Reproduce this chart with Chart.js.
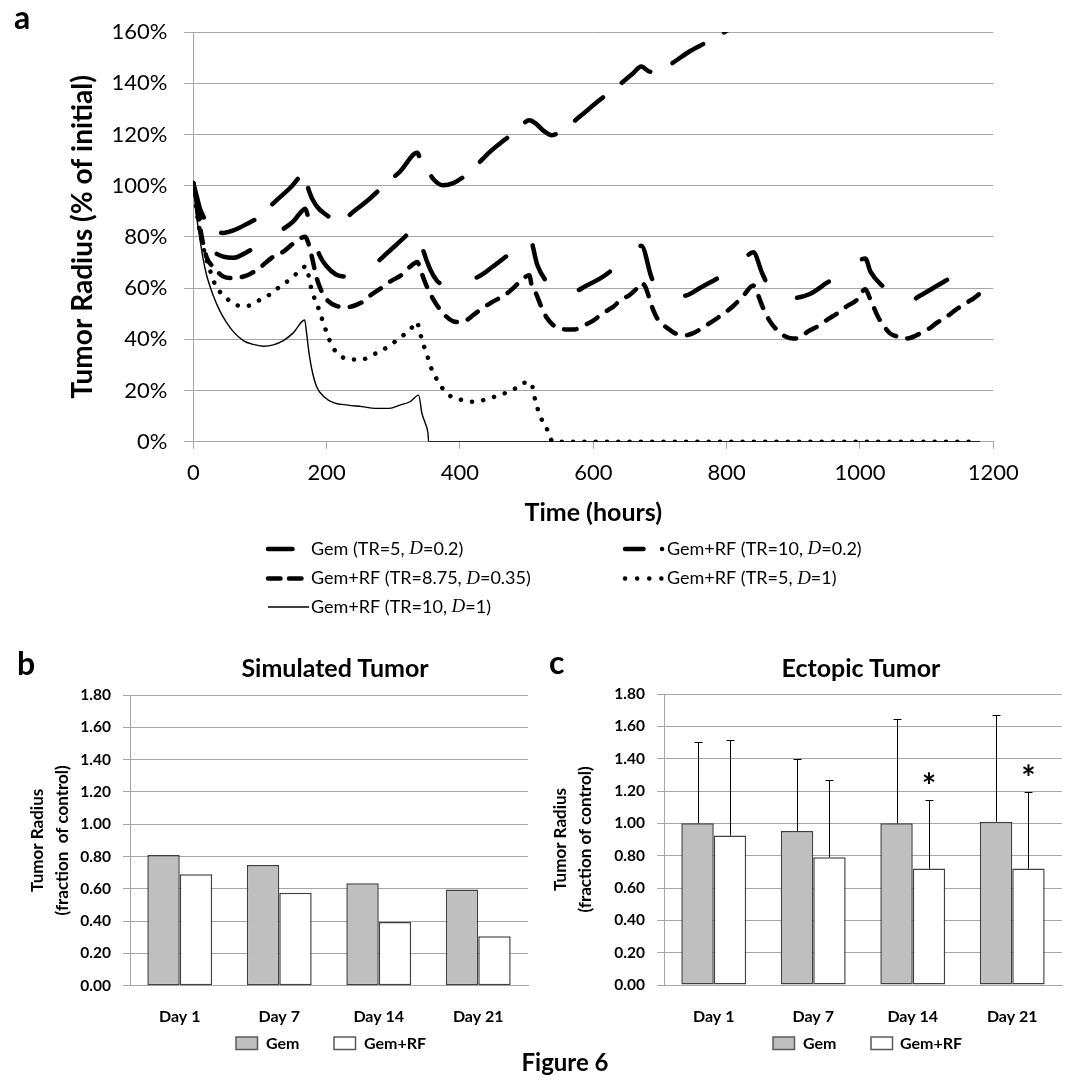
<!DOCTYPE html>
<html>
<head>
<meta charset="utf-8">
<script src="https://cdn.jsdelivr.net/npm/chart.js@4/dist/chart.umd.min.js"></script>
<style>
html,body{margin:0;padding:0;background:#fff;}
#page{position:relative;width:1072px;height:1078px;overflow:hidden;background:#fff;}
canvas{position:absolute;}
.t{position:absolute;font-family:Lato,sans-serif;font-weight:bold;color:#000;white-space:nowrap;line-height:1;}
</style>
</head>
<body>
<div id="page">
  <canvas id="chartA" width="1072" height="630" style="left:0;top:0;"></canvas>
  <canvas id="chartB" width="540" height="438" style="left:0;top:640px;"></canvas>
  <canvas id="chartC" width="542" height="438" style="left:530px;top:640px;"></canvas>
  <div class="t" style="left:14px;top:1px;font-size:32px;">a</div>
  <div class="t" style="left:17px;top:647px;font-size:32px;">b</div>
  <div class="t" style="left:549px;top:646px;font-size:32px;">c</div>
  <div class="t" style="left:335px;top:655px;font-size:25px;transform:translateX(-50%);">Simulated Tumor</div>
  <div class="t" style="left:861px;top:655px;font-size:25px;transform:translateX(-50%);">Ectopic Tumor</div>
  <div class="t" style="left:565px;top:1050px;font-size:24px;transform:translateX(-50%);">Figure 6</div>
</div>
<script>
// ================= DATA =================
// Panel a: [time (hours), tumor radius (% of initial)]
const gemTR5D02 = [[0,101],[5,96],[10,91],[15,88],[20,85.5],[30,83],[45,81.5],[60,82.5],[80,85],[100,88],[122,93.6],[145,99],[168,104.7],[173,98.3],[185,92],[200,88.5],[213,86.6],[225,86.8],[240,89.8],[265,95],[287,100.3],[310,105.5],[336,112.8],[342,109],[351,106],[362,102],[374,100.2],[390,101],[405,103.4],[425,108],[444,113],[465,117.5],[485,121.5],[504,125.5],[514,124.2],[525,121.5],[538,119.7],[550,121],[564,123.6],[588,128.8],[610,133.5],[636,138.8],[659,143.7],[672,146.5],[685,144.5],[700,145.5],[717,147.6],[743,152.2],[770,156],[797,160],[810,162]];
const rfTR10D02 = [[0,101],[5,94],[10,87],[15,82],[20,78.5],[30,74.5],[45,72.3],[60,71.8],[80,74],[102,77.5],[125,81.5],[150,86],[160,89.2],[168,91],[172,88],[180,80],[190,72.5],[200,68.5],[214,65.3],[229,64.5],[245,66],[260,67.8],[275,70],[290,73.5],[305,77],[315,79.4],[336,84],[344,75.5],[355,67.5],[365,63],[375,61.2],[390,60.6],[410,62.5],[432,65.1],[450,68.5],[470,72.5],[490,77],[504,80],[516,69],[530,62.5],[545,59.3],[564,57.9],[590,61],[614,64.4],[640,69.5],[660,74],[672,76.5],[688,63.7],[700,59.5],[715,57.5],[730,56.8],[741,57.2],[760,60],[794,65],[820,69.5],[840,74],[853,66],[866,59.2],[880,57],[895,56],[924,57.6],[950,62],[977,66.7],[1008,71.5],[1016,66.3],[1035,60.5],[1059,55.3],[1075,55],[1090,57],[1117,61.1],[1147,65.7],[1175,69.5]];
const rfTR875D035 = [[0,101],[5,92],[10,84],[15,77],[20,72],[32,67.7],[45,64.5],[60,63.9],[82,65.1],[100,68],[120,72.3],[135,74.2],[150,77.4],[168,80],[172,78],[178,72],[185,64],[192,59],[202,55],[215,53],[228,52.5],[240,53],[255,54.8],[267,57.4],[282,60],[295,62.5],[312,65.1],[325,68.3],[336,70.2],[341,67],[348,62],[355,58],[365,53.5],[377,49.5],[390,47],[400,46.7],[410,47.5],[420,49.5],[437,52.7],[450,54.8],[467,57.2],[480,60],[490,62.5],[504,65],[508,60.5],[514,57.9],[522,52.7],[530,48.5],[540,45.5],[550,44.2],[562,43.8],[572,43.8],[582,44.9],[601,47.5],[614,50.1],[630,52.7],[641,55.3],[654,57.2],[665,59.8],[672,62],[678,60.5],[688,52.7],[696,48.1],[712,44.2],[723,42.3],[739,41.6],[749,42.3],[770,45.5],[790,49],[810,53],[825,57],[840,61],[846,58],[855,52],[865,47],[878,43],[889,41],[900,40.3],[910,40.5],[921,42.9],[940,45.5],[950,47.5],[966,50.1],[979,52.7],[995,55.3],[1008,59.5],[1016,55.3],[1027,48.8],[1035,45.5],[1045,42.3],[1057,41],[1065,40.3],[1075,40.5],[1085,41.6],[1104,44.2],[1114,46.2],[1133,49.4],[1143,51.4],[1162,54.6],[1170,55.9],[1180,57.9]];
const rfTR5D1 = [[0,101],[5,90],[10,82],[15,76],[20,71],[25,67],[30,63],[40,58.5],[50,56],[62,53.5],[80,53],[97,55],[113,57.2],[126,59.8],[140,62.4],[152,65],[164,67.7],[168,68.5],[172,66],[175,61.9],[180,57.3],[187,52.7],[192,48.8],[197,44.9],[203,40.5],[209,37],[219,33.8],[237,32.1],[253,32.1],[268,33.8],[284,35.8],[299,38.4],[312,41],[325,43.6],[335,46.8],[338,44.9],[343,39.7],[348,35.8],[353,31.9],[358,28],[366,24],[374,20.8],[387,17.6],[403,16.3],[418,15.6],[436,16.3],[452,17.6],[467,18.9],[483,20.8],[496,23],[507,23],[511,18.2],[515,14.3],[520,10],[529,6.1],[534,2.2],[540,0],[1175,0]];
const rfTR10D1 = [[0,101],[5,88],[10,79],[15,71],[20,65],[30,57],[40,51],[50,46.5],[60,43],[75,39.5],[90,38],[105,37.3],[120,37.8],[135,39.5],[150,42.5],[167,47.5],[170,42.3],[173,35.8],[178,28],[185,21.5],[196,17.6],[211,15.2],[232,14.3],[253,13.7],[273,13],[294,13],[310,14.3],[325,15.6],[338,18.2],[343,11],[348,7.2],[352,3.3],[353,0],[1180,0]];
const seriesLabelsA = ['Gem (TR=5, D=0.2)','Gem+RF (TR=10, D=0.2)','Gem+RF (TR=8.75, D=0.35)','Gem+RF (TR=5, D=1)','Gem+RF (TR=10, D=1)'];

// Panels b and c
const dayLabels = ['Day 1','Day 7','Day 14','Day 21'];
const barSeriesLabels = ['Gem','Gem+RF'];
const simulatedGem = [0.81, 0.747, 0.635, 0.596];
const simulatedGemRF = [0.69, 0.575, 0.395, 0.306];
const ectopicGem = [1.00, 0.953, 1.00, 1.01];
const ectopicGemRF = [0.924, 0.79, 0.72, 0.72];
const ectopicGemErrTop = [1.505, 1.398, 1.645, 1.672];
const ectopicGemRFErrTop = [1.513, 1.268, 1.144, 1.194];
const ectopicGemRFSig = ['', '', '*', '*'];

// ================= RENDER =================
Chart.defaults.font.family = 'Lato, sans-serif';
Chart.defaults.color = '#000';
const GRID = '#a6a6a6';
const BAR_EDGE = '#404040';
const toXY = arr => arr.map(p => ({x: p[0], y: p[1]}));

// custom legend for panel a (two columns, italic serif D)
const legendAItems = [
  {ds:0, x:268, y:549, len:41, tx:311},
  {ds:1, x:625, y:549, len:41, tx:667},
  {ds:2, x:268, y:578.5, len:41, tx:311},
  {ds:3, x:625, y:578.5, len:41, tx:667},
  {ds:4, x:268, y:607, len:41, tx:311}
];
const legendAPlugin = {
  id: 'legendA',
  afterDraw(chart) {
    const ctx = chart.ctx;
    const reg = '18px Lato, sans-serif';
    const ital = 'italic 19px "Liberation Serif", "DejaVu Serif", serif';
    legendAItems.forEach(it => {
      const ds = chart.data.datasets[it.ds];
      ctx.save();
      ctx.strokeStyle = ds.borderColor;
      ctx.lineWidth = ds.borderWidth;
      ctx.lineCap = ds.borderCapStyle || 'butt';
      ctx.setLineDash(ds.legendDash || []);
      ctx.beginPath();
      ctx.moveTo(it.x, it.y);
      ctx.lineTo(it.x + it.len, it.y);
      ctx.stroke();
      ctx.setLineDash([]);
      const label = ds.label;
      const k = label.indexOf('D=');
      const parts = k >= 0 ? [[label.slice(0, k), reg], ['D', ital], [label.slice(k + 1), reg]] : [[label, reg]];
      ctx.fillStyle = '#000';
      ctx.textBaseline = 'middle';
      ctx.textAlign = 'left';
      let x = it.tx;
      parts.forEach(([s, f]) => { ctx.font = f; ctx.fillText(s, x, it.y); x += ctx.measureText(s).width; });
      ctx.restore();
    });
  }
};

const lineBase = {borderColor:'#000', pointRadius:0, fill:false, borderCapStyle:'round', borderJoinStyle:'round', cubicInterpolationMode:'monotone'};

new Chart(document.getElementById('chartA'), {
  type: 'line',
  data: {
    datasets: [
      Object.assign({}, lineBase, {label: seriesLabelsA[0], data: toXY(gemTR5D02), borderWidth:4.5, borderDash:[36,24], legendDash:[24.5,100]}),
      Object.assign({}, lineBase, {label: seriesLabelsA[1], data: toXY(rfTR10D02), borderWidth:4.5, borderDash:[36,40], legendDash:[18.5,18.5,0.1,100]}),
      Object.assign({}, lineBase, {label: seriesLabelsA[2], data: toXY(rfTR875D035), borderWidth:4.5, borderDash:[12.5,11.5], legendDash:[12.5,8.5]}),
      Object.assign({}, lineBase, {label: seriesLabelsA[3], data: toXY(rfTR5D1), borderWidth:4.5, borderDash:[0.1,11.2], legendDash:[0.1,12]}),
      Object.assign({}, lineBase, {label: seriesLabelsA[4], data: toXY(rfTR10D1), borderWidth:1.4, borderDash:[], borderCapStyle:'butt', legendDash:[]})
    ]
  },
  options: {
    responsive:false, animation:false, events:[],
    layout: {padding: {left:0, top:32, right:78.7, bottom:0}},
    plugins: {legend:{display:false}, tooltip:{enabled:false}},
    scales: {
      x: {
        type:'linear', min:0, max:1200,
        afterFit: s => { s.height = 188.3; },
        ticks: {stepSize:200, font:{size:22}, padding:11, color:'#000', maxRotation:0, callback: v => String(v)},
        grid: {drawOnChartArea:false, drawTicks:true, tickLength:7, color:GRID},
        border: {display:true, color:GRID},
        title: {display:true, text:'Time (hours)', font:{size:25, weight:'bold'}, padding:{top:0, bottom:102}, color:'#000'}
      },
      y: {
        min:0, max:160,
        afterFit: s => { s.width = 193.3; },
        ticks: {stepSize:20, font:{size:22}, padding:17, color:'#000', callback: v => v + '%'},
        grid: {color:GRID, tickLength:9, drawTicks:true},
        border: {display:true, color:GRID},
        title: {display:true, text:'Tumor Radius (% of initial)', font:{size:28, weight:'bold'}, padding:{top:66, bottom:0}, color:'#000'}
      }
    }
  },
  plugins: [legendAPlugin]
});

// bar chart helpers
function makeBarLegend(items) {
  return {
    id: 'barLegend',
    afterDraw(chart) {
      const ctx = chart.ctx;
      ctx.save();
      items.forEach(it => {
        ctx.fillStyle = it.fill;
        ctx.fillRect(it.bx, 397, 21.5, 12.5);
        ctx.strokeStyle = '#595959';
        ctx.lineWidth = 1.5;
        ctx.strokeRect(it.bx, 397, 21.5, 12.5);
        ctx.fillStyle = '#000';
        ctx.font = 'bold 16px Lato, sans-serif';
        ctx.textBaseline = 'middle';
        ctx.textAlign = 'left';
        ctx.fillText(it.label, it.tx, 403.5);
      });
      ctx.restore();
    }
  };
}
const errorBarPlugin = {
  id: 'errorBars',
  afterDatasetsDraw(chart) {
    const ctx = chart.ctx, ys = chart.scales.y;
    const sets = [ectopicGemErrTop, ectopicGemRFErrTop];
    ctx.save();
    ctx.strokeStyle = '#000';
    ctx.lineWidth = 1;
    sets.forEach((errs, di) => {
      const meta = chart.getDatasetMeta(di);
      meta.data.forEach((bar, i) => {
        const x = Math.round(bar.x) + 0.5;
        const yt = Math.round(ys.getPixelForValue(errs[i])) + 0.5;
        ctx.beginPath();
        ctx.moveTo(x, bar.y);
        ctx.lineTo(x, yt);
        ctx.moveTo(x - 4, yt);
        ctx.lineTo(x + 4, yt);
        ctx.stroke();
      });
    });
    // significance marks
    const meta = chart.getDatasetMeta(1);
    ctx.fillStyle = '#000';
    ctx.font = 'bold 34px Lato, sans-serif';
    ctx.textAlign = 'center';
    ctx.textBaseline = 'alphabetic';
    meta.data.forEach((bar, i) => {
      if (!ectopicGemRFSig[i]) return;
      const yc = ys.getPixelForValue(ectopicGemRFErrTop[i] + 0.13);
      ctx.fillText(ectopicGemRFSig[i], bar.x, yc + 19);
    });
    ctx.restore();
  }
};

function barConfig(gem, rf, geom, extraPlugins) {
  return {
    type: 'bar',
    data: {
      labels: dayLabels,
      datasets: [
        {label: barSeriesLabels[0], data: gem, backgroundColor:'#bfbfbf', borderColor:BAR_EDGE, borderWidth:1.5, borderSkipped:false, categoryPercentage:0.652, barPercentage:1.0},
        {label: barSeriesLabels[1], data: rf, backgroundColor:'#ffffff', borderColor:BAR_EDGE, borderWidth:1.5, borderSkipped:false, categoryPercentage:0.652, barPercentage:1.0}
      ]
    },
    options: {
      responsive:false, animation:false, events:[],
      layout: {padding: {left:0, top:geom.top, right:geom.right, bottom:0}},
      plugins: {legend:{display:false}, tooltip:{enabled:false}},
      scales: {
        x: {
          afterFit: s => { s.height = geom.xh; },
          ticks: {font:{size:16, weight:'bold'}, padding:geom.xpad, color:'#000', maxRotation:0},
          grid: {display:false, drawTicks:false},
          border: {display:true, color:GRID}
        },
        y: {
          min:0, max:1.8,
          afterFit: s => { s.width = geom.yw; },
          ticks: {stepSize:0.2, font:{size:15.5, weight:'bold'}, padding:12, color:'#000', callback: v => v.toFixed(2)},
          grid: {color:GRID, tickLength:7, drawTicks:true},
          border: {display:true, color:GRID},
          title: {display:true, text:['Tumor Radius', geom.line2], font:{size:17, weight:'bold', lineHeight:'25px'}, padding:{top:geom.tpad, bottom:0}, color:'#000'}
        }
      }
    },
    plugins: extraPlugins
  };
}

new Chart(document.getElementById('chartB'),
  barConfig(simulatedGem, simulatedGemRF,
    {top:55, right:12, xh:92.3, xpad:22, yw:130, tpad:25.5, line2:'(fraction  of control)'},
    [makeBarLegend([{fill:'#bfbfbf', bx:236, tx:266, label:barSeriesLabels[0]}, {fill:'#ffffff', bx:334, tx:364, label:barSeriesLabels[1]}])]));

new Chart(document.getElementById('chartC'),
  barConfig(ectopicGem, ectopicGemRF,
    {top:54, right:10, xh:93, xpad:22.7, yw:134, tpad:17.8, line2:'(fraction of control)'},
    [errorBarPlugin, makeBarLegend([{fill:'#bfbfbf', bx:243, tx:273, label:barSeriesLabels[0]}, {fill:'#ffffff', bx:341, tx:370, label:barSeriesLabels[1]}])]));
</script>
</body>
</html>
